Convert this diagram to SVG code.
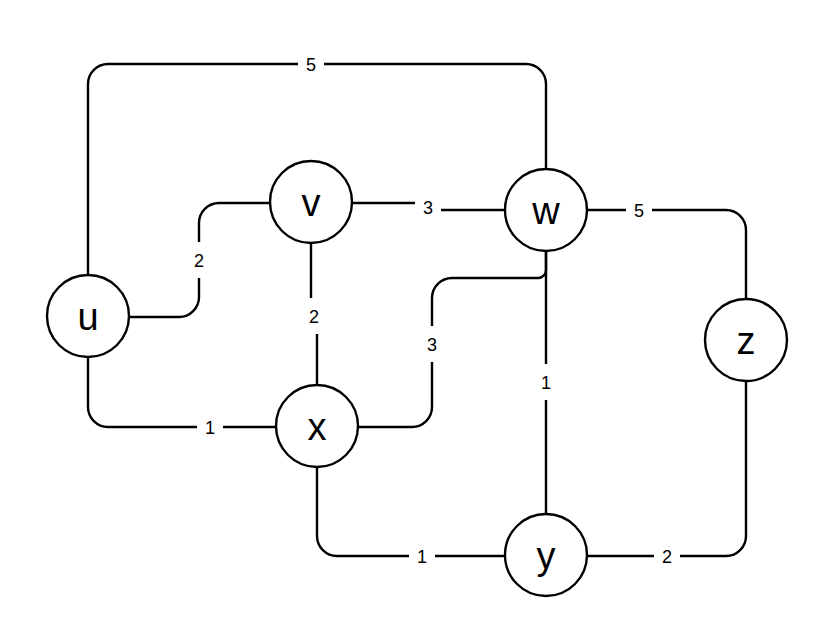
<svg xmlns="http://www.w3.org/2000/svg" width="827" height="636" viewBox="0 0 827 636">
<style>
.edge{fill:none;stroke:#000;stroke-width:2.4;stroke-linejoin:round}
.node circle{fill:#fff;stroke:#000;stroke-width:2.4}
.node text{font-family:"Liberation Sans",Arial,sans-serif;font-size:38px;text-anchor:middle;fill:#000}
.lbl rect{fill:#fff;stroke:none}
.lbl text{font-family:"Liberation Sans",Arial,sans-serif;font-size:18px;text-anchor:middle;fill:#000}
</style>
<rect width="827" height="636" fill="#fff"/>
<g id="connectors">
<path class="edge" d="M88,275 V84 A20,20 0 0 1 108,64 H526 A20,20 0 0 1 546,84 V169"/>
<path class="edge" d="M129,317 H179 A20,20 0 0 0 199,297 V223 A20,20 0 0 1 219,203 H270"/>
<path class="edge" d="M352,203 H428 V210 H505"/>
<path class="edge" d="M311,243 V316 H317 V385"/>
<path class="edge" d="M88,357 V407 A20,20 0 0 0 108,427 H276"/>
<path class="edge" d="M358,427 H412 A20,20 0 0 0 432,407 V298 A20,20 0 0 1 452,278 H538 A8,8 0 0 0 546,270 V251"/>
<path class="edge" d="M546,251 V514"/>
<path class="edge" d="M587,210 H726 A20,20 0 0 1 746,230 V299"/>
<path class="edge" d="M317,467 V536 A20,20 0 0 0 337,556 H505"/>
<path class="edge" d="M587,556 H726 A20,20 0 0 0 746,536 V382"/>
<g class="lbl">
<rect x="298" y="46" width="26" height="36"/><text x="311" y="70.5">5</text>
<rect x="186" y="242" width="26" height="36"/><text x="199" y="266.5">2</text>
<rect x="415" y="189" width="26" height="36"/><text x="428" y="213.5">3</text>
<rect x="301" y="298" width="26" height="36"/><text x="314" y="322.5">2</text>
<rect x="197" y="409" width="26" height="36"/><text x="210" y="433.5">1</text>
<rect x="419" y="326" width="26" height="36"/><text x="432" y="350.5">3</text>
<rect x="533" y="364" width="26" height="36"/><text x="546" y="388.5">1</text>
<rect x="626" y="192" width="26" height="36"/><text x="639" y="216.5">5</text>
<rect x="409" y="538" width="26" height="36"/><text x="422" y="562.5">1</text>
<rect x="654" y="538" width="26" height="36"/><text x="667" y="562.5">2</text>
</g>
</g>
<g id="node-u" class="node"><circle cx="88" cy="316" r="41"/><text x="88" y="330">u</text></g>
<g id="node-v" class="node"><circle cx="311" cy="202" r="41"/><text x="311" y="216">v</text></g>
<g id="node-w" class="node"><circle cx="546" cy="210" r="41"/><text x="546" y="224">w</text></g>
<g id="node-x" class="node"><circle cx="317" cy="426" r="41"/><text x="317" y="440">x</text></g>
<g id="node-y" class="node"><circle cx="546" cy="555" r="41"/><text x="546" y="569">y</text></g>
<g id="node-z" class="node"><circle cx="746" cy="340" r="41"/><text x="746" y="354">z</text></g>
</svg>
